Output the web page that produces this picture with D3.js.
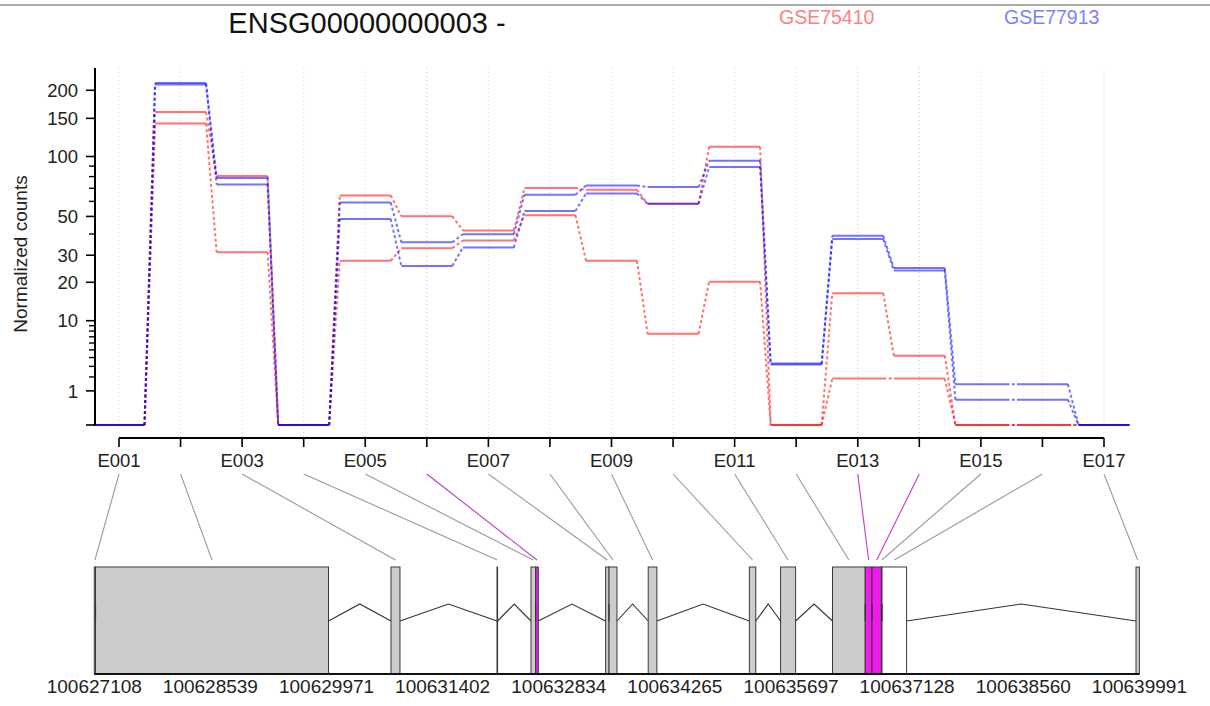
<!DOCTYPE html>
<html>
<head>
<meta charset="utf-8">
<script src="https://cdn.jsdelivr.net/npm/d3@7"></script>
<style>
  html, body { margin: 0; padding: 0; background: #ffffff; }
  svg { display: block; font-family: "Liberation Sans", Arial, sans-serif; }
</style>
</head>
<body>
<svg id="chart" width="1210" height="706"></svg>
<script>
// Exon bins of the gene
const exons = ["E001","E002","E003","E004","E005","E006","E007","E008","E009",
               "E010","E011","E012","E013","E014","E015","E016","E017"];

// Genomic start / end of each exon bin
const exonStart = [100627108,100627123,100630765,100632072,100632491,100632548,100633411,100633453,
                   100633936,100635183,100635568,100636208,100636611,100636695,100636811,100636818,100639949];
const exonEnd   = [100627123,100629995,100630876,100632079,100632548,100632581,100633453,100633551,
                   100634043,100635262,100635753,100636611,100636695,100636811,100636818,100637121,100639991];

// Exon status: "sig" = significant, "tested" = tested, "untested" = not tested
const exonStatus = ["tested","tested","tested","tested","tested","sig","tested","tested","tested",
                    "tested","tested","tested","sig","sig","tested","untested","tested"];

// Normalized counts per exon, two samples per dataset
const gse75410A = [0,160,80.5,0,64.4,50.1,41.9,70.2,68.8,58.3,111,0,16.7,4.24,0,0,0];
const gse75410B = [0,142,31.3,0,27.7,33.1,36.7,50.8,27.7,7.5,20.2,0,1.86,1.86,0,0,0];
const gse77913A = [0,215,78.7,0,59.2,35.8,39.9,64.9,72.3,71.0,95.5,3.3,39.1,24.9,1.43,1.43,0];
const gse77913B = [0,212,73.1,0,48.4,25.7,33.4,53.4,65.9,58.3,89.0,3.2,37.4,24.0,0.55,0.55,0];

// Axis ticks
const yMajorTicks = [0,1,10,20,30,50,100,150,200];
const yMinorTicks = [2,3,4,5,6,7,8,9,40,60,70,80,90];
const yTop = 250;
const geneTicks = [100627108,100628539,100629971,100631402,100632834,
                   100634265,100635697,100637128,100638560,100639991];

const geneName = "ENSG00000000003 -";
const datasets = [
  { name: "GSE75410", color: "#ff0000", text: "#ff8080", series: [gse75410A, gse75410B] },
  { name: "GSE77913", color: "#0000ff", text: "#8080ff", series: [gse77913A, gse77913B] }
];

const svg = d3.select("#chart");

// Variance-stabilising style transform for the count axis
const tr = v => Math.asinh(Math.sqrt(v / 40));
const yLin = d3.scaleLinear().domain([0, tr(yTop)]).range([425, 68]);
const y = v => yLin(tr(v));

const x = d3.scalePoint().domain(exons).range([119, 1104]);
const half = x.step() * 0.414;

const gx = d3.scaleLinear().domain([geneTicks[0], geneTicks[geneTicks.length - 1]]).range([94.3, 1139.4]);

const SIG = "#F219ED";

// Vertical dotted guides at each exon
svg.append("g").selectAll("line").data(exons).join("line")
  .attr("x1", d => x(d)).attr("x2", d => x(d))
  .attr("y1", 68).attr("y2", 438)
  .attr("stroke", (d, i) => exonStatus[i] === "sig" ? "#f6a0f3" : "#d9d9d9")
  .attr("stroke-width", 1)
  .attr("stroke-dasharray", "1,3");

// Count profiles: solid level per exon, dashed connector to the next exon
const prof = svg.append("g");
datasets.forEach(ds => {
  ds.series.forEach(vals => {
    const g = prof.append("g")
      .attr("stroke", ds.color).attr("stroke-opacity", 0.55)
      .attr("stroke-width", 2).attr("fill", "none");
    g.selectAll("line.lvl").data(vals).join("line").attr("class", "lvl")
      .attr("x1", (v, i) => x(exons[i]) - half)
      .attr("x2", (v, i) => x(exons[i]) + half)
      .attr("y1", v => y(v)).attr("y2", v => y(v));
    g.selectAll("line.con").data(vals.slice(0, -1)).join("line").attr("class", "con")
      .attr("x1", (v, i) => x(exons[i]) + half)
      .attr("x2", (v, i) => x(exons[i + 1]) - half)
      .attr("y1", v => y(v))
      .attr("y2", (v, i) => y(vals[i + 1]))
      .attr("stroke-dasharray", "3,2.5");
  });
});

// Y axis
const yAxis = svg.append("g").attr("stroke", "#000");
yAxis.append("line").attr("x1", 95).attr("x2", 95)
  .attr("y1", y(0)).attr("y2", y(yTop)).attr("stroke-width", 2);
yAxis.selectAll("line.maj").data(yMajorTicks).join("line").attr("class", "maj")
  .attr("x1", 86).attr("x2", 95).attr("y1", d => y(d)).attr("y2", d => y(d))
  .attr("stroke-width", 1.6);
yAxis.selectAll("line.min").data(yMinorTicks).join("line").attr("class", "min")
  .attr("x1", 89).attr("x2", 95).attr("y1", d => y(d)).attr("y2", d => y(d))
  .attr("stroke-width", 1.4);
svg.append("g").selectAll("text").data(yMajorTicks.filter(d => d > 0)).join("text")
  .attr("x", 78).attr("y", d => y(d)).attr("dy", "0.36em")
  .attr("text-anchor", "end").attr("font-size", 18.5).attr("fill", "#222")
  .text(d => d);
svg.append("text")
  .attr("transform", "translate(27,254) rotate(-90)")
  .attr("text-anchor", "middle").attr("font-size", 19).attr("fill", "#222")
  .text("Normalized counts");

// Exon axis
const xAxis = svg.append("g").attr("stroke", "#000");
xAxis.append("line").attr("x1", x(exons[0])).attr("x2", x(exons[exons.length - 1]))
  .attr("y1", 438).attr("y2", 438).attr("stroke-width", 2);
xAxis.selectAll("line.t").data(exons).join("line").attr("class", "t")
  .attr("x1", d => x(d)).attr("x2", d => x(d)).attr("y1", 438).attr("y2", 447)
  .attr("stroke-width", 1.6);
svg.append("g").selectAll("text").data(exons.filter((d, i) => i % 2 === 0)).join("text")
  .attr("x", d => x(d)).attr("y", 467).attr("text-anchor", "middle")
  .attr("font-size", 18.5).attr("fill", "#222").text(d => d);

// Links from exon axis to exon positions on the gene model
svg.append("g").selectAll("line").data(exons).join("line")
  .attr("x1", d => x(d)).attr("y1", 474)
  .attr("x2", (d, i) => gx((exonStart[i] + exonEnd[i]) / 2)).attr("y2", 560)
  .attr("stroke", (d, i) => exonStatus[i] === "sig" ? "#c63cc6" : "#9a9a9a")
  .attr("stroke-width", 1.1);

// Gene model boxes
const boxTop = 567, boxBot = 674;
svg.append("g").selectAll("rect").data(exons).join("rect")
  .attr("x", (d, i) => gx(exonStart[i]))
  .attr("width", (d, i) => Math.max(0.6, gx(exonEnd[i]) - gx(exonStart[i])))
  .attr("y", boxTop).attr("height", boxBot - boxTop)
  .attr("fill", (d, i) => exonStatus[i] === "sig" ? SIG : exonStatus[i] === "untested" ? "#ffffff" : "#cccccc")
  .attr("stroke", "#3a3a3a").attr("stroke-width", 1);

// Introns as chevrons between consecutive exons
const intronBase = 621, intronPeak = 604;
svg.append("g").selectAll("polyline").data(exons.slice(0, -1)).join("polyline")
  .attr("points", (d, i) => {
    const a = gx(exonEnd[i]), b = gx(exonStart[i + 1]);
    return `${a},${intronBase} ${(a + b) / 2},${intronPeak} ${b},${intronBase}`;
  })
  .attr("fill", "none").attr("stroke", "#333").attr("stroke-width", 1.1);

// Genomic coordinate axis
svg.append("line").attr("x1", gx.range()[0]).attr("x2", gx.range()[1])
  .attr("y1", boxBot).attr("y2", boxBot).attr("stroke", "#111").attr("stroke-width", 2);
svg.append("g").selectAll("text").data(geneTicks).join("text")
  .attr("x", d => gx(d)).attr("y", 693).attr("text-anchor", "middle")
  .attr("font-size", 19).attr("fill", "#222").text(d => d);

// Header: rule, title and dataset legend
svg.append("line").attr("x1", 0).attr("x2", 1210).attr("y1", 5).attr("y2", 5)
  .attr("stroke", "#8c8c8c").attr("stroke-width", 1.5);
svg.append("text").attr("x", 367).attr("y", 33).attr("text-anchor", "middle")
  .attr("font-size", 29).attr("fill", "#111").text(geneName);
const legendX = [779, 1004];
svg.append("g").selectAll("text").data(datasets).join("text")
  .attr("x", (d, i) => legendX[i]).attr("y", 24)
  .attr("font-size", 19.5).attr("fill", d => d.text).text(d => d.name);
</script>
</body>
</html>
